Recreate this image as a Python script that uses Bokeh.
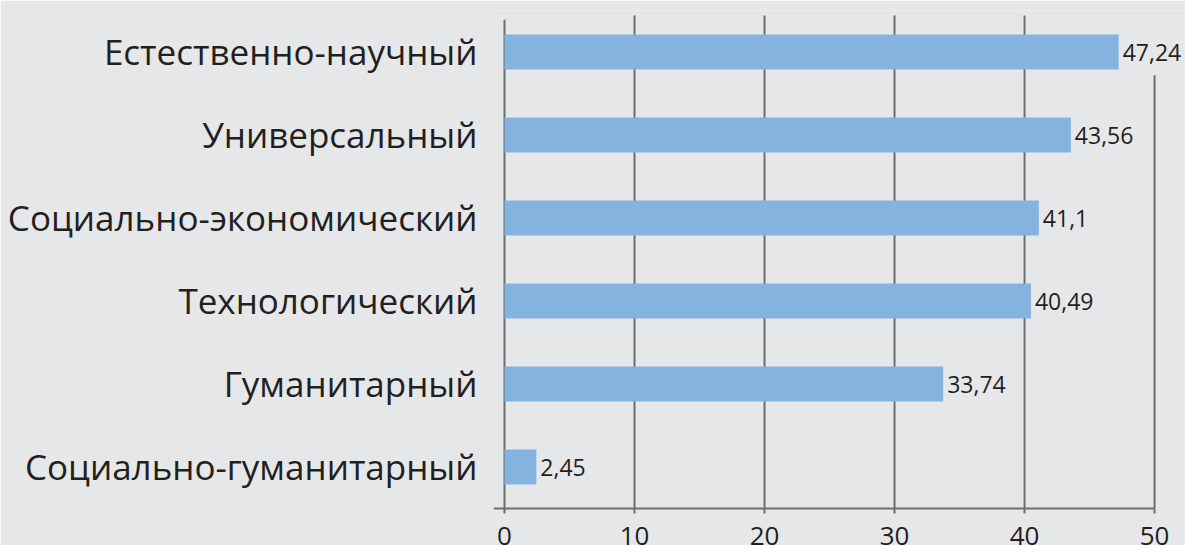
from bokeh.plotting import figure
from bokeh.models import ColumnDataSource, Range1d, FixedTicker, LabelSet
from bokeh.core.properties import value
from bokeh.embed import file_html
from bokeh.resources import INLINE

categories = ["Естественно-научный", "Универсальный", "Социально-экономический",
              "Технологический", "Гуманитарный", "Социально-гуманитарный"]
values = [47.24, 43.56, 41.1, 40.49, 33.74, 2.45]
x_ticks = [0, 10, 20, 30, 40, 50]

BG = "#e6e7e9"
BAR = "#85b3e0"
GRID = "#6d6e70"
TEXT = "#231f20"
FONT = "Open Sans"

n = len(categories)
ys = [n - 1 - i for i in range(n)]
labels = [str(v).replace(".", ",") for v in values]
src = ColumnDataSource(dict(y=ys, v=values, lbl=labels, cat=categories))

p = figure(width=1185, height=545, output_backend="svg", toolbar_location=None,
           x_range=Range1d(-0.846, 52.38), y_range=Range1d(-0.946, n - 0.5),
           min_border_left=493, min_border_right=0, min_border_top=10, min_border_bottom=0)
p.background_fill_color = BG
p.border_fill_color = BG
p.outline_line_color = None
p.xgrid.visible = False
p.ygrid.visible = False

# vertical grid lines drawn from the tick list
top_main = n - 0.5 - 0.06
grid_top = [top_main - (0.05 if t == x_ticks[0] else 0) for t in x_ticks]
grid_top[-1] = n - 1 - 0.28  # last line starts below the top value label
gsrc = ColumnDataSource(dict(x=x_ticks, y0=[-0.5] * len(x_ticks), y1=grid_top))
p.segment(x0="x", x1="x", y0="y0", y1="y1", source=gsrc, line_color=GRID, line_width=2)

p.hbar(y="y", left=0, right="v", height=0.42, source=src, color=BAR, line_color=None)

p.add_layout(LabelSet(x="v", y="y", text="lbl", source=src, x_offset=4, y_offset=-1,
                      text_baseline="middle", text_font_size=value("23px"),
                      text_color=TEXT, text_font=value(FONT)))

xa = p.xaxis[0]
xa.fixed_location = -0.5
xa.bounds = (-0.846, x_ticks[-1])
xa.ticker = FixedTicker(ticks=x_ticks)
xa.axis_line_color = GRID
xa.axis_line_width = 2
xa.major_tick_line_color = GRID
xa.major_tick_line_width = 2
xa.major_tick_in = 0
xa.major_tick_out = 5
xa.minor_tick_line_color = None
xa.major_label_text_font = FONT
xa.major_label_text_font_size = "26px"
xa.major_label_text_color = TEXT
xa.major_label_standoff = 14

ya = p.yaxis[0]
ya.ticker = FixedTicker(ticks=ys)
ya.major_label_overrides = {y: c for y, c in zip(ys, categories)}
ya.axis_line_color = None
ya.major_tick_line_color = None
ya.minor_tick_line_color = None
ya.major_label_standoff = 10
ya.major_label_text_font = FONT
ya.major_label_text_font_size = "35px"
ya.major_label_text_color = TEXT

open("out.html", "w").write(file_html(p, INLINE))
